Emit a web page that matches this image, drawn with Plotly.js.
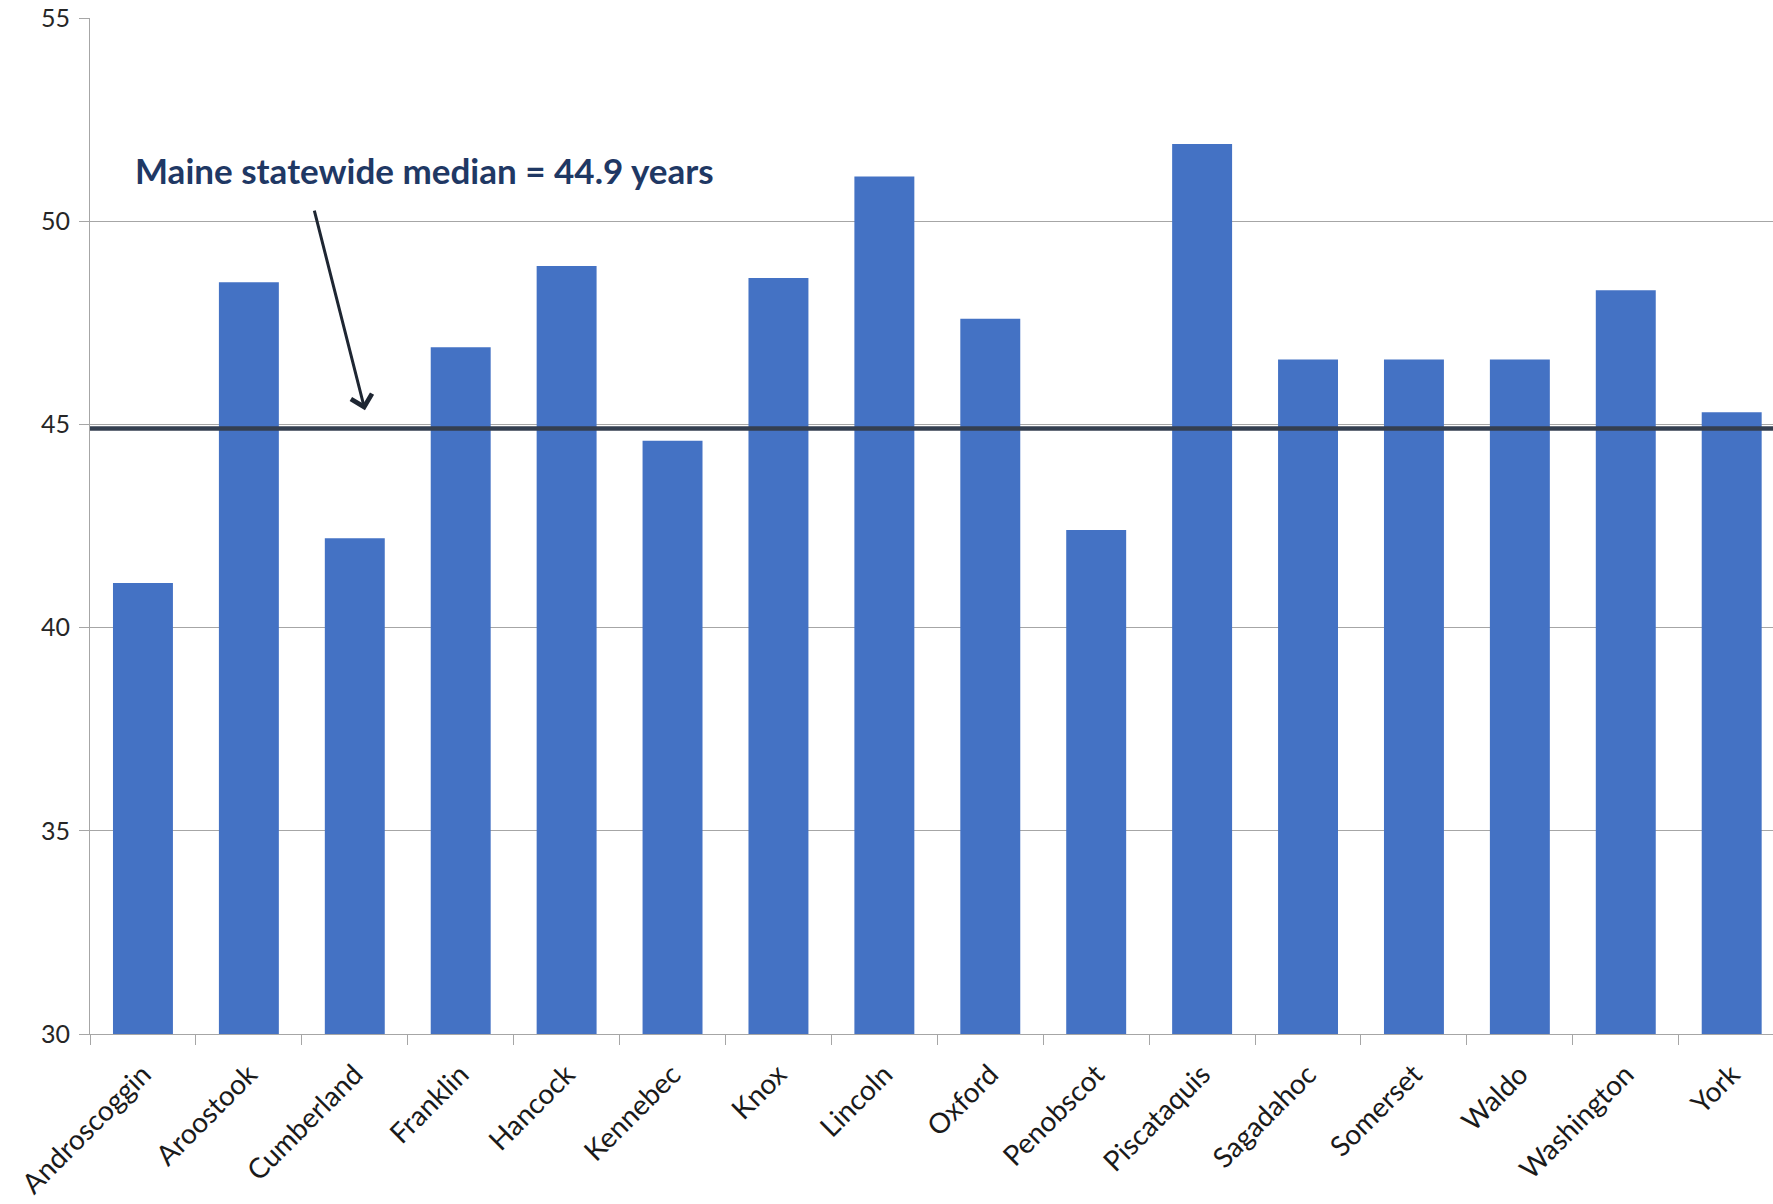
<!DOCTYPE html>
<html>
<head>
<meta charset="utf-8">
<script src="https://cdn.plot.ly/plotly-3.0.1.min.js"></script>
<style>
  html, body { margin: 0; padding: 0; background: #ffffff; }
  #chart { width: 1773px; height: 1204px; }
</style>
</head>
<body>
<div id="chart"></div>
<script>
// Data
const counties = ["Androscoggin", "Aroostook", "Cumberland", "Franklin", "Hancock", "Kennebec",
  "Knox", "Lincoln", "Oxford", "Penobscot", "Piscataquis", "Sagadahoc", "Somerset", "Waldo",
  "Washington", "York"];
const medianAge = [41.1, 48.5, 42.2, 46.9, 48.9, 44.6, 48.6, 51.1, 47.6, 42.4, 51.9, 46.6, 46.6, 46.6, 48.3, 45.3];
const statewideMedian = 44.9;
const annotationText = "Maine statewide median = " + statewideMedian + " years";
const yTicks = [30, 35, 40, 45, 50, 55];

const FONT = "Lato, 'Open Sans', sans-serif";
const GRID = "#a6a6a6";

const trace = {
  type: "bar",
  x: counties,
  y: medianAge,
  marker: { color: "#4472C4", line: { width: 0 } },
  hoverinfo: "x+y",
  cliponaxis: true
};

const layout = {
  width: 1773,
  height: 1204,
  margin: { l: 90, r: 0, t: 18, b: 170, pad: 0 },
  paper_bgcolor: "#ffffff",
  plot_bgcolor: "#ffffff",
  showlegend: false,
  bargap: 0.434,
  font: { family: FONT, color: "#262626" },
  xaxis: {
    type: "category",
    range: [-0.5, 15.39],
    tickson: "boundaries",
    ticks: "outside",
    ticklen: 10,
    tickwidth: 1,
    tickcolor: GRID,
    showline: true,
    linecolor: GRID,
    linewidth: 1,
    showgrid: false,
    tickangle: -45,
    ticklabelstandoff: 12,
    tickfont: { family: FONT, size: 28, color: "#1a1a1a" },
    fixedrange: true
  },
  yaxis: {
    range: [30, 55],
    tickvals: yTicks,
    ticktext: yTicks.map(String),
    ticks: "outside",
    ticklen: 10,
    tickwidth: 1,
    tickcolor: GRID,
    showline: true,
    linecolor: GRID,
    linewidth: 1,
    showgrid: true,
    gridcolor: GRID,
    gridwidth: 1,
    zeroline: false,
    tickfont: { family: FONT, size: 25, color: "#262626" },
    ticklabelstandoff: 4,
    fixedrange: true
  },
  shapes: [{
    type: "line",
    xref: "paper", x0: 0, x1: 1,
    yref: "y", y0: statewideMedian, y1: statewideMedian,
    line: { color: "#343f50", width: 4.5 },
    layer: "above"
  }],
  annotations: [
    {
      text: annotationText,
      xref: "x", yref: "y",
      x: -0.09, y: 51.25,
      xanchor: "left", yanchor: "middle",
      showarrow: false,
      font: { family: FONT, size: 35, color: "#1f3864", weight: "bold" }
    },
    {
      text: "",
      xref: "x", yref: "y",
      x: 2.096, y: 45.35,
      axref: "pixel", ayref: "pixel",
      ax: -51, ay: -201,
      showarrow: true,
      arrowhead: 4,
      arrowsize: 1.4,
      arrowwidth: 3,
      arrowcolor: "#1e2632",
      standoff: 0
    }
  ]
};

Plotly.newPlot("chart", [trace], layout, { staticPlot: true, displayModeBar: false });
</script>
</body>
</html>
